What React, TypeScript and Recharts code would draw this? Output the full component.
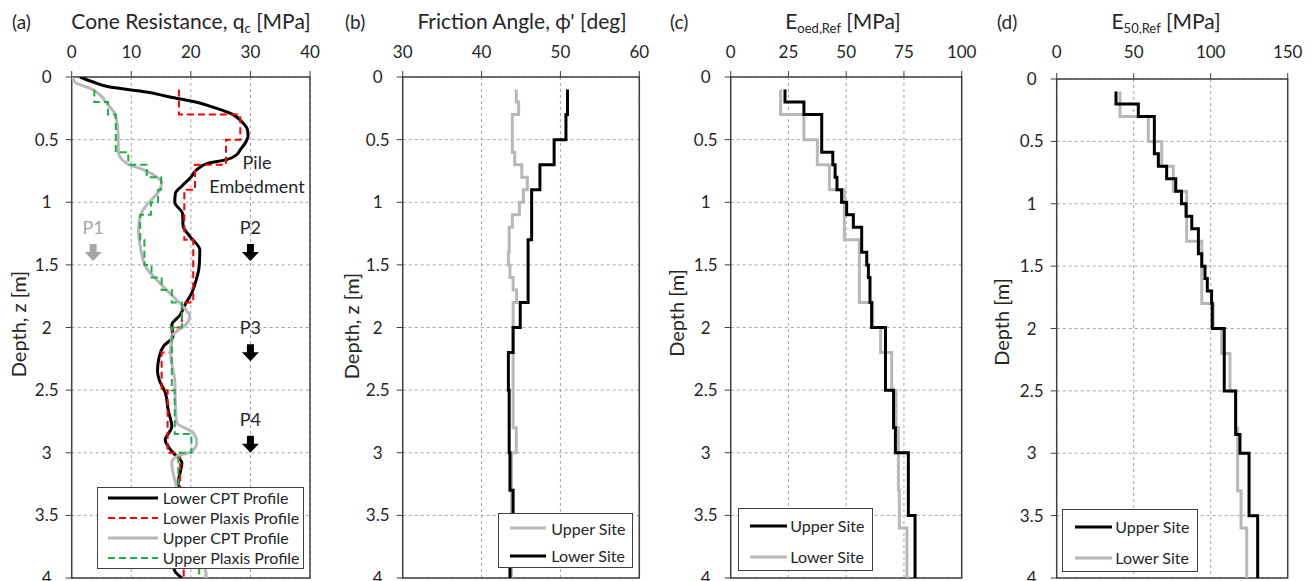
import React from 'react';
import { ScatterChart, Scatter, XAxis, YAxis, CartesianGrid, ReferenceArea, ReferenceDot, Legend } from 'recharts';

const FONT = 'Lato, "Open Sans", sans-serif';
const AXIS = '#404040';
const TEXT = '#262626';
const GRAY = '#b8b8b8';
const RED = '#ff0000';
const GREEN = '#1fae4b';

// depth ticks shared by all four panels
const depthTicks = [0, 0.5, 1, 1.5, 2, 2.5, 3, 3.5, 4];

// (a) cone resistance
const qcTicks = [0, 10, 20, 30, 40];
const lowerCptDepth = [0, 0.04, 0.08, 0.12, 0.16, 0.2, 0.24, 0.3, 0.36, 0.42, 0.47, 0.53, 0.58, 0.62, 0.66, 0.69, 0.74, 0.8, 0.87, 0.93, 1.0, 1.09, 1.19, 1.27, 1.38, 1.51, 1.62, 1.73, 1.82, 1.9, 1.98, 2.07, 2.15, 2.23, 2.35, 2.42, 2.52, 2.66, 2.79, 2.9, 2.95, 3.0, 3.08, 3.16, 3.22, 3.4, 3.6, 3.8, 3.93, 4.0];
const lowerCptQc = [1.4, 3.6, 6.4, 12.6, 16.5, 20.8, 23.7, 27.1, 28.6, 29.5, 29.6, 29.1, 28.3, 27.7, 26.0, 22.8, 21.0, 20.0, 18.5, 17.4, 17.3, 18.6, 18.7, 19.8, 21.5, 21.4, 20.9, 20.1, 19.0, 18.2, 16.8, 17.0, 15.4, 14.7, 14.4, 14.7, 15.7, 16.2, 16.8, 15.7, 16.2, 17.0, 18.5, 18.2, 17.9, 17.8, 17.5, 17.2, 17.2, 18.5];
const upperCptDepth = [0, 0.05, 0.09, 0.14, 0.21, 0.3, 0.46, 0.59, 0.69, 0.74, 0.8, 0.84, 0.9, 0.98, 1.06, 1.11, 1.22, 1.35, 1.46, 1.53, 1.62, 1.7, 1.78, 1.85, 1.91, 1.97, 2.02, 2.07, 2.2, 2.34, 2.42, 2.6, 2.76, 2.84, 2.92, 2.99, 3.03, 3.08, 3.16, 3.25, 3.5, 3.75, 3.9, 4.0];
const upperCptQc = [0, 0.8, 3.1, 4.7, 5.9, 7.3, 7.8, 7.8, 9.2, 12.0, 14.3, 15.1, 14.8, 13.4, 12.0, 11.5, 11.2, 11.5, 12.0, 12.6, 14.3, 15.9, 17.6, 19.0, 19.8, 19.3, 17.9, 16.8, 16.6, 17.0, 17.3, 17.4, 17.6, 20.4, 21.0, 20.1, 17.6, 16.8, 17.0, 17.5, 18.5, 20.5, 22.3, 22.6];
const lowerPlaxisTops = [0.1, 0.3, 0.5, 0.7, 0.9, 1.3, 1.8, 2.0, 2.2, 2.5, 3.0, 3.5, 4.0];
const lowerPlaxisQc = [18.0, 28.3, 25.9, 20.7, 18.9, 20.4, 18.5, 16.8, 15.1, 16.1, 18.2, 18.8];
const upperPlaxisTops = [0.1, 0.2, 0.3, 0.6, 0.7, 0.8, 0.9, 1.0, 1.1, 1.3, 1.5, 1.6, 1.7, 1.8, 2.0, 2.5, 2.85, 3.0, 3.5, 3.9, 4.0];
const upperPlaxisQc = [3.8, 6.1, 7.4, 9.5, 12.6, 15.0, 14.5, 13.3, 11.5, 12.2, 13.4, 15.1, 16.8, 18.5, 16.8, 17.3, 20.1, 17.9, 19.5, 21.4];

// (b) friction angle
const phiTicks = [30, 40, 50, 60];
const phiUpperTops = [0.1, 0.2, 0.3, 0.6, 0.7, 0.8, 0.9, 1.0, 1.1, 1.2, 1.4, 1.5, 1.6, 1.7, 1.8, 2.8, 3.0, 4.0];
const phiUpperValues = [44.4, 44.7, 43.9, 44.2, 45.1, 45.8, 45.3, 44.8, 43.9, 43.5, 43.4, 43.6, 44.0, 44.45, 44.0, 44.4, 43.8];
const phiLowerTops = [0.1, 0.3, 0.5, 0.7, 0.9, 1.3, 1.8, 2.0, 2.2, 2.5, 3.0, 3.3, 3.8, 4.0];
const phiLowerValues = [50.9, 50.7, 49.2, 47.4, 46.35, 45.9, 44.9, 44.0, 43.4, 43.5, 43.6, 44.0, 43.6];

// (c) oedometer stiffness
const eoedTicks = [0, 25, 50, 75, 100];
const eoedUpperTops = [0.1, 0.2, 0.3, 0.6, 0.7, 0.8, 0.9, 1.0, 1.1, 1.2, 1.4, 1.5, 1.6, 1.8, 2.0, 2.5, 2.8, 3.0, 3.5, 4.0];
const eoedUpperValues = [23.5, 31.7, 39.4, 44.2, 45.2, 46.0, 48.0, 50.2, 53.1, 56.7, 58.9, 59.6, 60.3, 61.0, 67.0, 70.5, 71.3, 76.9, 79.8];
const eoedLowerTops = [0.1, 0.3, 0.5, 0.7, 0.9, 1.3, 1.8, 2.0, 2.2, 2.5, 2.8, 3.3, 3.6, 4.0];
const eoedLowerValues = [21.6, 31.7, 37.5, 42.7, 49.2, 55.7, 61.5, 64.9, 69.7, 71.6, 72.6, 73.0, 76.3];

// (d) secant stiffness
const e50Ticks = [0, 50, 100, 150];
const e50UpperTops = [0.1, 0.2, 0.3, 0.6, 0.7, 0.8, 0.9, 1.0, 1.1, 1.2, 1.4, 1.5, 1.6, 1.7, 1.8, 2.0, 2.5, 2.85, 3.0, 3.5, 4.0];
const e50UpperValues = [38.5, 53, 63.4, 66, 71.4, 77.3, 81, 84, 87.7, 92, 94.2, 96.3, 97.8, 100.6, 101, 108.8, 116.2, 119, 124.9, 130.5];
const e50LowerTops = [0.1, 0.3, 0.5, 0.7, 0.9, 1.3, 1.8, 2.0, 2.2, 2.5, 2.8, 3.3, 3.6, 4.0];
const e50LowerValues = [41.1, 59.5, 68.2, 75.7, 84.4, 94.2, 101.7, 107.1, 112.5, 116.2, 117.5, 119.7, 123.4];

type Pt = { x: number; z: number };
const profile = (depth: number[], values: number[]): Pt[] => depth.map((z, i) => ({ x: values[i], z }));
const steps = (tops: number[], values: number[]): Pt[] =>
  values.flatMap((v, i) => [{ x: v, z: tops[i] }, { x: v, z: tops[i + 1] }]);

type Series = { name: string; data: Pt[]; color: string; width: number; dash?: string; curve?: any };

const PANEL_H = 640;
const PLOT_BOTTOM = 578;
const X_AXIS_H = 30;
const Y_AXIS_W = 40;

const XTick = (props: any) => {
  const { x, payload } = props;
  return (
    <text x={x} y={58} textAnchor="middle" fontSize={17} fill={TEXT} fontFamily={FONT}>
      {payload.value}
    </text>
  );
};

const YTick = (props: any) => {
  const { x, y, payload } = props;
  return (
    <text x={x - 17} y={y + 6} textAnchor="middle" fontSize={17} fill={TEXT} fontFamily={FONT}>
      {payload.value}
    </text>
  );
};

type LegendLayout = { left: number; top: number; w: number; h: number; rows: number[]; pad: number; len: number; gap: number; fontSize: number };

const LegendBox = ({ items, box }: { items: Series[]; box: LegendLayout }) => (
  <div
    style={{
      position: 'relative', width: box.w, height: box.h, border: `1px solid ${AXIS}`, background: '#fff',
      boxSizing: 'border-box', fontFamily: FONT, fontSize: box.fontSize, color: TEXT,
    }}
  >
    {items.map((it, i) => (
      <div
        key={it.name}
        style={{ position: 'absolute', left: box.pad, top: box.rows[i] - 10, height: 20, display: 'flex', alignItems: 'center', whiteSpace: 'nowrap' }}
      >
        <svg width={box.len} height={6} style={{ marginRight: box.gap }}>
          <line x1={0} y1={3} x2={box.len} y2={3} stroke={it.color} strokeWidth={it.width} strokeDasharray={it.dash} />
        </svg>
        <span>{it.name}</span>
      </div>
    ))}
  </div>
);

const PileArrow = (props: any) => {
  const { cx, cy, label, color } = props;
  const pts = [
    [cx - 3.5, cy - 17], [cx + 3.5, cy - 17], [cx + 3.5, cy - 9], [cx + 8.5, cy - 9],
    [cx, cy], [cx - 8.5, cy - 9], [cx - 3.5, cy - 9],
  ].map((p) => p.join(',')).join(' ');
  return (
    <g>
      <text x={cx} y={cy - 27} textAnchor="middle" fontSize={18} fill={color === '#000' ? TEXT : color} fontFamily={FONT}>{label}</text>
      <polygon points={pts} fill={color} />
    </g>
  );
};

const EmbedLabel = (props: any) => {
  const { cx, cy } = props;
  return (
    <text textAnchor="middle" fontSize={18} fill={TEXT} fontFamily={FONT}>
      <tspan x={cx} y={cy + 6}>Pile</tspan>
      <tspan x={cx} y={cy + 30}>Embedment</tspan>
    </text>
  );
};

type PanelSpec = {
  key: string; left: number; width: number; plotLeft: number; plotRight: number; plotTop: number;
  xDomain: [number, number]; xTicks: number[]; series: Series[]; legendOrder: number[]; legend: LegendLayout;
  extras?: React.ReactNode;
};

const pileMarkers = [
  { label: 'P1', qc: 3.6, z: 1.47, color: '#a6a6a6' },
  { label: 'P2', qc: 30, z: 1.47, color: '#000' },
  { label: 'P3', qc: 30, z: 2.27, color: '#000' },
  { label: 'P4', qc: 30, z: 3.0, color: '#000' },
];

const panels: PanelSpec[] = [
  {
    key: 'a', left: 0, width: 330, plotLeft: 71.7, plotRight: 310, plotTop: 77,
    xDomain: [0, 40], xTicks: qcTicks,
    series: [
      { name: 'Lower CPT Profile', data: profile(lowerCptDepth, lowerCptQc), color: '#000', width: 3, curve: 'monotoneY' },
      { name: 'Lower Plaxis Profile', data: steps(lowerPlaxisTops, lowerPlaxisQc), color: RED, width: 2, dash: '7 4' },
      { name: 'Upper CPT Profile', data: profile(upperCptDepth, upperCptQc), color: GRAY, width: 3, curve: 'monotoneY' },
      { name: 'Upper Plaxis Profile', data: steps(upperPlaxisTops, upperPlaxisQc), color: GREEN, width: 2, dash: '7 4' },
    ],
    legendOrder: [0, 1, 2, 3],
    legend: { left: 96.7, top: 486.7, w: 207, h: 82, rows: [10, 30, 50, 70], pad: 10, len: 50, gap: 5, fontSize: 16 },
    extras: [
      ...pileMarkers.map((m) => (
        <ReferenceDot key={m.label} x={m.qc} y={m.z} r={0} ifOverflow="visible"
          shape={(p: any) => <PileArrow {...p} label={m.label} color={m.color} />} />
      )),
      <ReferenceDot key="embed" x={31.1} y={0.686} r={0} ifOverflow="visible" shape={(p: any) => <EmbedLabel {...p} />} />,
    ],
  },
  {
    key: 'b', left: 330, width: 330, plotLeft: 402.7, plotRight: 639.3, plotTop: 77,
    xDomain: [30, 60], xTicks: phiTicks,
    series: [
      { name: 'Upper Site', data: steps(phiUpperTops, phiUpperValues), color: GRAY, width: 3 },
      { name: 'Lower Site', data: steps(phiLowerTops, phiLowerValues), color: '#000', width: 3 },
    ],
    legendOrder: [0, 1],
    legend: { left: 168.3, top: 513.3, w: 135, h: 55, rows: [14, 41.7], pad: 11, len: 36, gap: 5, fontSize: 16 },
  },
  {
    key: 'c', left: 660, width: 330, plotLeft: 730.7, plotRight: 961.7, plotTop: 77,
    xDomain: [0, 100], xTicks: eoedTicks,
    series: [
      { name: 'Lower Site', data: steps(eoedLowerTops, eoedLowerValues), color: GRAY, width: 3 },
      { name: 'Upper Site', data: steps(eoedUpperTops, eoedUpperValues), color: '#000', width: 3 },
    ],
    legendOrder: [1, 0],
    legend: { left: 78.3, top: 508.3, w: 135, h: 63, rows: [16.7, 47.7], pad: 11, len: 37, gap: 3, fontSize: 16 },
  },
  {
    key: 'd', left: 985, width: 327, plotLeft: 1056.7, plotRight: 1287.7, plotTop: 79,
    xDomain: [0, 150], xTicks: e50Ticks,
    series: [
      { name: 'Lower Site', data: steps(e50LowerTops, e50LowerValues), color: GRAY, width: 3 },
      { name: 'Upper Site', data: steps(e50UpperTops, e50UpperValues), color: '#000', width: 3 },
    ],
    legendOrder: [1, 0],
    legend: { left: 77.3, top: 509.3, w: 136, h: 63, rows: [16.4, 47.4], pad: 12, len: 37, gap: 3, fontSize: 16 },
  },
];

const Panel = ({ spec }: { spec: PanelSpec }) => {
  const margin = {
    top: spec.plotTop - X_AXIS_H,
    left: spec.plotLeft - spec.left - Y_AXIS_W,
    right: spec.left + spec.width - spec.plotRight,
    bottom: PANEL_H - PLOT_BOTTOM,
  };
  const legendItems = spec.legendOrder.map((i) => spec.series[i]);
  return (
    <div style={{ position: 'absolute', left: spec.left, top: 0 }}>
      <ScatterChart width={spec.width} height={PANEL_H} margin={margin}>
        <CartesianGrid strokeDasharray="3 3" stroke="#a6a6a6" />
        <XAxis type="number" dataKey="x" orientation="top" domain={spec.xDomain} ticks={spec.xTicks} interval={0}
          height={X_AXIS_H} axisLine={false} tickLine={{ stroke: AXIS }} tickSize={6} tick={<XTick />} allowDataOverflow />
        <YAxis type="number" dataKey="z" reversed domain={[0, 4]} ticks={depthTicks} interval={0}
          width={Y_AXIS_W} axisLine={false} tickLine={{ stroke: AXIS }} tickSize={6} tick={<YTick />} allowDataOverflow />
        <ReferenceArea x1={spec.xDomain[0]} x2={spec.xDomain[1]} y1={0} y2={4} fill="none" fillOpacity={0}
          stroke={AXIS} strokeWidth={1.5} ifOverflow="visible" />
        {spec.series.map((s) => (
          <Scatter key={s.name} name={s.name} data={s.data}
            line={{ stroke: s.color, strokeWidth: s.width, strokeDasharray: s.dash }}
            lineJointType={s.curve ?? 'linear'} shape={() => <g />} isAnimationActive={false} />
        ))}
        {spec.extras}
        <Legend layout="horizontal" verticalAlign="middle" align="center"
          wrapperStyle={{ left: spec.legend.left, top: spec.legend.top, width: spec.legend.w, height: spec.legend.h }}
          content={() => <LegendBox items={legendItems} box={spec.legend} />} />
      </ScatterChart>
    </div>
  );
};

const Sub = ({ children }: { children: React.ReactNode }) => (
  <span style={{ fontSize: '0.62em', position: 'relative', top: '0.3em' }}>{children}</span>
);

const Title = ({ cx, children }: { cx: number; children: React.ReactNode }) => (
  <div style={{ position: 'absolute', left: cx, top: 8, transform: 'translateX(-50%)', fontSize: 21, lineHeight: '26px', whiteSpace: 'nowrap', color: TEXT }}>
    {children}
  </div>
);

const Letter = ({ x, children }: { x: number; children: React.ReactNode }) => (
  <div style={{ position: 'absolute', left: x, top: 9, fontSize: 19, lineHeight: '26px', color: TEXT }}>{children}</div>
);

const DepthLabel = ({ cx, cy, children }: { cx: number; cy: number; children: React.ReactNode }) => (
  <div style={{ position: 'absolute', left: cx, top: cy, transform: 'translate(-50%, -50%) rotate(-90deg)', fontSize: 20, lineHeight: '24px', whiteSpace: 'nowrap', color: TEXT }}>
    {children}
  </div>
);

export default function App() {
  return (
    <div style={{ position: 'absolute', left: 0, top: 0, width: 1312, height: 581, overflow: 'hidden', background: '#fff', fontFamily: FONT }}>
      {panels.map((p) => <Panel key={p.key} spec={p} />)}
      <Letter x={12}>(a)</Letter>
      <Title cx={191}>Cone Resistance, q<Sub>c</Sub> [MPa]</Title>
      <Letter x={345}>(b)</Letter>
      <Title cx={522}>Friction Angle, ϕ' [deg]</Title>
      <Letter x={670}>(c)</Letter>
      <Title cx={843}>E<Sub>oed,Ref</Sub> [MPa]</Title>
      <Letter x={997}>(d)</Letter>
      <Title cx={1166}>E<Sub>50,Ref</Sub> [MPa]</Title>
      <DepthLabel cx={18} cy={324}>Depth, z [m]</DepthLabel>
      <DepthLabel cx={351} cy={326}>Depth, z [m]</DepthLabel>
      <DepthLabel cx={676} cy={313}>Depth [m]</DepthLabel>
      <DepthLabel cx={1001} cy={322}>Depth [m]</DepthLabel>
    </div>
  );
}
